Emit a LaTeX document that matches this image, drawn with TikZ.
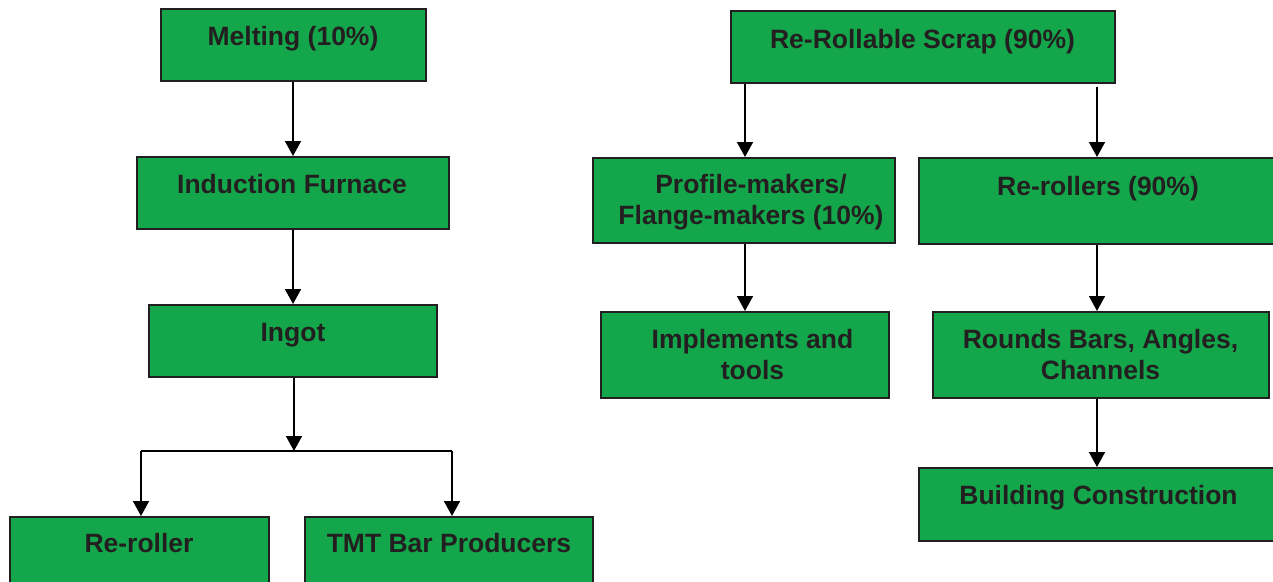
\documentclass[tikz,border=0pt]{standalone}
\usepackage{fontspec}
\setmainfont{Liberation Sans}
\usetikzlibrary{arrows.meta,calc}
\definecolor{boxgreen}{HTML}{14A64A}
\definecolor{ink}{HTML}{231F20}
\tikzset{
  box/.style={draw=ink, line width=1.6pt, fill=boxgreen, inner sep=0pt, anchor=north west},
  lbl/.style={font=\fontsize{26.5}{31}\selectfont\bfseries, text=ink, inner sep=0pt, anchor=base, align=center},
  arr/.style={draw=black, line width=1.7pt, -{Triangle[width=16pt,length=15pt]}},
  ln/.style={draw=black, line width=1.7pt}
}
\begin{document}
\begin{tikzpicture}[x=1pt,y=-1pt]
\useasboundingbox (0,0) rectangle (1273,581);
\clip (0,0) rectangle (1273,581);
% boxes
\node[box, minimum width=265pt, minimum height=72pt] (melt) at (160,8) {};
\node[box, minimum width=312pt, minimum height=72pt] (ind) at (136,156) {};
\node[box, minimum width=288pt, minimum height=72pt] (ingot) at (148,304) {};
\node[box, minimum width=259pt, minimum height=80pt] (rer) at (9,516) {};
\node[box, minimum width=288pt, minimum height=80pt] (tmt) at (304,516) {};
\node[box, minimum width=384pt, minimum height=72pt] (scrap) at (730,10) {};
\node[box, minimum width=302pt, minimum height=85pt] (prof) at (592,157) {};
\node[box, minimum width=358pt, minimum height=86pt] (rers) at (918,157) {};
\node[box, minimum width=288pt, minimum height=86pt] (impl) at (600,311) {};
\node[box, minimum width=336pt, minimum height=86pt] (rounds) at (932,311) {};
\node[box, minimum width=358pt, minimum height=73pt] (build) at (918,467) {};
% labels
\node[lbl] (meltT) at (293,45) {Melting (10\%)};
\node[lbl] (indT) at (292,193) {Induction Furnace};
\node[lbl] (ingotT) at (293,341) {Ingot};
\node[lbl] (rerT) at (139,552) {Re-roller};
\node[lbl] (tmtT) at (449,552) {TMT Bar Producers};
\node[lbl] (scrapT) at (922.5,48) {Re-Rollable Scrap (90\%)};
\node[lbl] (profT) at (751,224.5) {Profile-makers/\\Flange-makers (10\%)};
\node[lbl] (rersT) at (1098,195) {Re-rollers (90\%)};
\node[lbl] (implT) at (752.5,379) {Implements and\\tools};
\node[lbl] (roundsT) at (1100.5,379.5) {Rounds Bars, Angles,\\Channels};
\node[lbl] (buildT) at (1098.5,504) {Building Construction};
% helper coordinates
\coordinate (xa) at (293,0);
\coordinate (xb) at (294,0);
\coordinate (jn) at (294,451);
\coordinate (xl) at (141,0);
\coordinate (xr) at (452,0);
\coordinate (xp) at (745,0);
\coordinate (xq) at (1097,0);
% connectors
\draw[arr] (xa |- melt.south) -- (xa |- ind.north);
\draw[arr] (xa |- ind.south) -- (xa |- ingot.north);
\draw[arr] (xb |- ingot.south) -- (jn);
\draw[ln] (jn) -- (xl |- jn);
\draw[ln] (jn) -- (xr |- jn);
\draw[arr] (xl |- jn) -- (xl |- rer.north);
\draw[arr] (xr |- jn) -- (xr |- tmt.north);
\draw[arr] (xp |- scrap.south) -- (xp |- prof.north);
\draw[arr, shorten <=3pt] (xq |- scrap.south) -- (xq |- rers.north);
\draw[arr] (xp |- prof.south) -- (xp |- impl.north);
\draw[arr] (xq |- rers.south) -- (xq |- rounds.north);
\draw[arr] (xq |- rounds.south) -- (xq |- build.north);
\end{tikzpicture}
\end{document}
